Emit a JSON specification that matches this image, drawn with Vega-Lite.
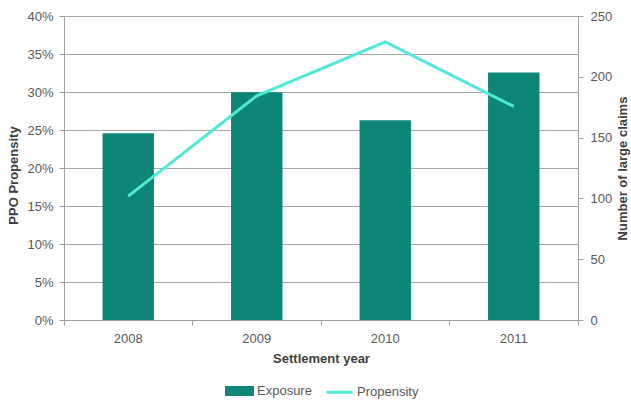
{
  "$schema": "https://vega.github.io/schema/vega-lite/v6.json",
  "width": 514,
  "height": 304,
  "autosize": {"type": "none"},
  "padding": {"left": 64, "top": 16, "right": 53, "bottom": 81},
  "config": {
    "view": {"stroke": null},
    "font": "Liberation Sans",
    "axis": {
      "labelFont": "Liberation Sans",
      "labelFontSize": 13,
      "labelColor": "#595959",
      "titleFont": "Liberation Sans",
      "titleFontSize": 13,
      "titleFontWeight": "bold",
      "titleColor": "#404040",
      "domainColor": "#a0a0a0",
      "tickColor": "#a0a0a0",
      "gridColor": "#a6a6a6",
      "tickSize": 5
    },
    "legend": {
      "labelFont": "Liberation Sans",
      "labelFontSize": 13,
      "labelColor": "#595959"
    }
  },
  "data": {
    "values": [
      {"year": "2008", "claims": 153.5, "propensity": 0.163},
      {"year": "2009", "claims": 187.3, "propensity": 0.295},
      {"year": "2010", "claims": 164.2, "propensity": 0.366},
      {"year": "2011", "claims": 203.5, "propensity": 0.281}
    ]
  },
  "encoding": {
    "x": {
      "field": "year",
      "type": "ordinal",
      "scale": {"paddingInner": 0, "paddingOuter": 0},
      "axis": {
        "title": "Settlement year",
        "labelAngle": 0,
        "bandPosition": 1,
        "tickExtra": true,
        "labelPadding": 7,
        "titleBaseline": "alphabetic",
        "titleY": 42,
        "grid": false
      }
    }
  },
  "layer": [
    {
      "mark": {"type": "bar", "width": {"band": 0.4}},
      "encoding": {
        "y": {
          "field": "claims",
          "type": "quantitative",
          "scale": {"domain": [0, 250], "nice": false},
          "axis": {
            "orient": "right",
            "title": "Number of large claims",
            "values": [0, 50, 100, 150, 200, 250],
            "grid": false,
            "labelPadding": 7,
            "titleAngle": -90,
            "titleBaseline": "alphabetic",
            "titleX": 48,
            "titleY": 152
          }
        },
        "color": {
          "datum": "Exposure",
          "scale": {"domain": ["Exposure", "Propensity"], "range": ["#0e8677", "#4debd7"]},
          "legend": {
            "title": null,
            "orient": "none",
            "legendX": 161,
            "legendY": 360,
            "direction": "horizontal",
            "symbolSize": 676,
            "labelOffset": 3,
            "columnPadding": 8,
            "encode": {
              "symbols": {
                "update": {
                  "shape": {"signal": "datum.value === 'Exposure' ? 'M-1,-0.27H1V0.27H-1Z' : 'M-1,0H1'"},
                  "fill": {"signal": "datum.value === 'Exposure' ? '#0e8677' : 'transparent'"},
                  "stroke": {"signal": "datum.value === 'Exposure' ? 'transparent' : '#4debd7'"},
                  "strokeWidth": {"value": 3},
                  "opacity": {"value": 1}
                }
              }
            }
          }
        }
      }
    },
    {
      "mark": {"type": "line", "strokeWidth": 3},
      "encoding": {
        "y": {
          "field": "propensity",
          "type": "quantitative",
          "scale": {"domain": [0, 0.4], "nice": false},
          "axis": {
            "orient": "left",
            "title": "PPO Propensity",
            "values": [0, 0.05, 0.1, 0.15, 0.2, 0.25, 0.3, 0.35, 0.4],
            "format": ".0%",
            "grid": true,
            "labelPadding": 6,
            "titleAngle": -90,
            "titleBaseline": "alphabetic",
            "titleX": -46.5,
            "titleY": 159
          }
        },
        "color": {"datum": "Propensity"}
      }
    }
  ],
  "resolve": {"scale": {"y": "independent"}}
}
